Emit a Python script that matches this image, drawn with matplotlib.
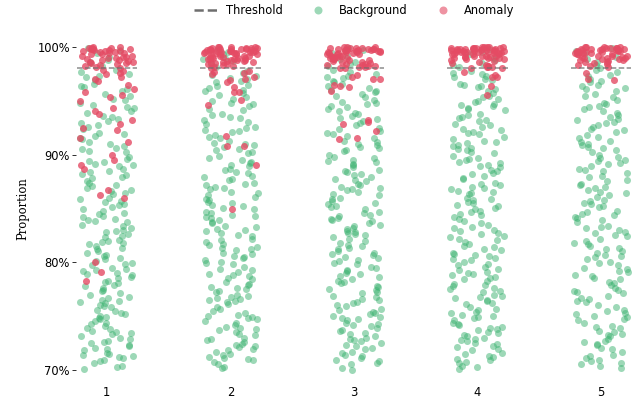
import matplotlib
matplotlib.use("Agg")
import matplotlib.pyplot as plt
from matplotlib.lines import Line2D
from matplotlib.ticker import PercentFormatter
import numpy as np
import pandas as pd
import seaborn as sns

batches = ["1", "2", "3", "4", "5"]
threshold = 0.98

# proportions in percent, one list per batch
background_1 = [
    70.1, 70.4, 70.9, 71.2, 71.3, 71.5, 71.6, 71.8, 70.6, 71.9, 70.3, 71.1, 70.8, 71.4,
    72.0, 72.2, 72.5, 72.6, 72.9, 73.1, 73.3, 73.4, 73.6, 73.8, 72.3, 73.9, 72.7, 73.0, 73.5,
    74.1, 74.3, 74.4, 74.7, 74.9, 75.0, 75.2, 75.3, 75.6, 75.8, 74.5, 75.9, 74.8, 75.5,
    76.0, 76.2, 76.4, 76.5, 76.8, 77.0, 77.1, 77.4, 77.6, 77.9, 76.7, 77.3, 76.3, 77.8,
    78.1, 78.3, 78.5, 78.8, 79.0, 79.2, 79.3, 79.5, 79.7, 79.9, 78.6, 79.4, 78.2, 79.8, 78.9,
    80.1, 80.3, 80.4, 80.7, 80.9, 81.0, 81.2, 81.5, 81.7, 81.9, 80.6, 81.3, 81.8,
    82.0, 82.3, 82.4, 82.6, 82.9, 83.0, 83.2, 83.5, 83.7, 83.8, 82.8, 83.4, 82.1, 83.9,
    84.0, 84.2, 84.5, 84.6, 84.8, 85.1, 85.3, 85.4, 85.7, 85.9, 84.3, 85.6, 84.9,
    86.0, 86.3, 86.4, 86.7, 86.9, 87.1, 87.2, 87.5, 87.8, 86.6, 87.4, 87.9,
    88.1, 88.2, 88.5, 88.7, 89.0, 89.1, 89.4, 89.6, 89.8, 88.4, 89.3, 88.9,
    90.2, 90.3, 90.6, 90.8, 91.0, 91.2, 91.4, 91.7, 91.9, 90.5, 91.5,
    92.0, 92.4, 92.6, 92.9, 93.1, 93.3, 93.6, 93.9, 92.7, 93.5,
    94.0, 94.3, 94.6, 94.8, 95.1, 95.4, 95.6, 95.9, 94.4, 95.2,
    96.1, 96.4, 96.6, 96.9, 97.2, 97.5, 97.7, 97.9, 96.3, 97.3,
    98.2, 98.5, 98.8, 99.1, 99.4, 99.7, 99.9, 98.6,
]
background_2 = [
    70.2, 70.3, 70.7, 70.9, 71.0, 71.2, 71.4, 71.7, 71.8, 70.5, 71.5, 71.9, 71.1,
    72.1, 72.3, 72.6, 72.8, 73.0, 73.2, 73.5, 73.7, 73.9, 72.4, 73.3, 72.9, 73.8, 72.2,
    74.0, 74.2, 74.5, 74.7, 74.8, 75.1, 75.3, 75.5, 75.7, 75.8, 74.4, 75.0, 74.9,
    76.1, 76.3, 76.5, 76.6, 76.9, 77.0, 77.2, 77.5, 77.7, 77.9, 76.4, 77.3, 76.8, 77.6, 76.7,
    78.0, 78.2, 78.4, 78.7, 78.9, 79.1, 79.4, 79.6, 79.8, 78.5, 79.3, 79.9, 78.8,
    80.0, 80.2, 80.5, 80.6, 80.8, 81.1, 81.3, 81.4, 81.6, 81.9, 80.4, 81.7, 80.9, 81.2,
    82.1, 82.2, 82.5, 82.7, 82.9, 83.1, 83.3, 83.4, 83.6, 83.9, 82.4, 83.7, 83.0,
    84.1, 84.3, 84.4, 84.7, 84.9, 85.0, 85.2, 85.5, 85.6, 85.8, 84.6, 85.3, 84.2, 85.9,
    86.1, 86.2, 86.5, 86.8, 87.0, 87.3, 87.4, 87.6, 87.9, 86.4, 87.2, 86.9, 87.7,
    88.0, 88.3, 88.4, 88.6, 88.9, 89.2, 89.3, 89.5, 89.7, 89.9, 88.7, 89.0,
    90.1, 90.4, 90.5, 90.7, 91.0, 91.1, 91.3, 91.6, 91.8, 90.9, 91.5, 90.2,
    92.1, 92.3, 92.5, 92.8, 93.0, 93.2, 93.4, 93.7, 93.8, 92.6, 93.5, 92.2,
    94.1, 94.2, 94.5, 94.7, 95.0, 95.2, 95.5, 95.7, 95.9, 94.8, 95.3,
    96.0, 96.2, 96.5, 96.7, 97.0, 97.1, 97.4, 97.6, 97.8, 96.8, 97.3, 96.4,
    98.1, 98.4, 98.7, 99.0, 99.3, 99.5, 99.8, 98.9,
]
background_3 = [
    70.0, 70.2, 70.5, 70.6, 70.9, 71.1, 71.3, 71.6, 71.7, 70.8, 71.4, 71.9,
    72.0, 72.3, 72.5, 72.7, 72.8, 73.0, 73.3, 73.4, 73.7, 73.9, 72.2, 73.6, 72.9, 73.1,
    74.1, 74.2, 74.4, 74.6, 74.9, 75.0, 75.3, 75.4, 75.6, 75.9, 74.7, 75.2, 74.3, 75.7, 74.8,
    76.0, 76.2, 76.3, 76.6, 76.9, 77.1, 77.2, 77.4, 77.7, 77.8, 76.5, 77.5, 76.8,
    78.1, 78.2, 78.4, 78.6, 78.9, 79.0, 79.2, 79.5, 79.6, 79.9, 78.7, 79.3, 78.3, 79.8,
    80.1, 80.2, 80.4, 80.7, 80.8, 81.0, 81.3, 81.5, 81.6, 81.8, 80.5, 81.2, 80.9,
    82.0, 82.2, 82.5, 82.6, 82.8, 83.1, 83.2, 83.5, 83.6, 83.8, 82.3, 83.4, 82.9, 83.9, 82.7,
    84.0, 84.3, 84.4, 84.6, 84.9, 85.1, 85.2, 85.4, 85.7, 85.9, 84.7, 85.5, 84.1,
    86.0, 86.2, 86.5, 86.7, 86.8, 87.0, 87.3, 87.5, 87.6, 87.9, 86.3, 87.2, 86.9, 87.7,
    88.1, 88.2, 88.5, 88.6, 88.8, 89.1, 89.3, 89.4, 89.7, 89.8, 88.4, 89.0, 89.5,
    90.0, 90.3, 90.4, 90.6, 90.9, 91.0, 91.2, 91.5, 91.7, 91.9, 90.7, 91.3,
    92.0, 92.2, 92.5, 92.7, 92.9, 93.1, 93.3, 93.6, 93.8, 92.4, 93.4, 93.9,
    94.0, 94.2, 94.4, 94.7, 94.9, 95.1, 95.3, 95.6, 95.8, 94.5, 95.4, 95.9, 94.8,
    96.0, 96.2, 96.4, 96.7, 96.8, 97.1, 97.3, 97.5, 97.7, 97.9, 96.6, 97.2,
    98.2, 98.4, 98.6, 98.9, 99.2, 99.4, 99.7, 99.9,
]
background_4 = [
    70.1, 70.3, 70.4, 70.7, 71.0, 71.2, 71.5, 71.6, 71.8, 70.6, 71.3, 70.9, 71.9,
    72.1, 72.2, 72.4, 72.7, 72.9, 73.0, 73.2, 73.4, 73.5, 73.8, 72.5, 73.7, 72.8, 73.1, 73.9,
    74.0, 74.3, 74.4, 74.6, 74.8, 75.0, 75.1, 75.4, 75.6, 75.7, 74.2, 75.3, 74.9, 75.8,
    76.1, 76.2, 76.4, 76.7, 76.8, 77.0, 77.3, 77.5, 77.6, 77.8, 76.5, 77.2, 76.9, 77.9,
    78.0, 78.3, 78.4, 78.6, 78.8, 79.0, 79.1, 79.3, 79.6, 79.8, 78.5, 79.4, 78.9, 79.7,
    80.0, 80.2, 80.3, 80.6, 80.8, 80.9, 81.1, 81.4, 81.5, 81.7, 80.4, 81.2, 81.9, 80.7,
    82.1, 82.3, 82.4, 82.6, 82.9, 83.0, 83.2, 83.3, 83.6, 83.8, 82.7, 83.5, 82.2,
    84.0, 84.2, 84.4, 84.5, 84.8, 85.0, 85.2, 85.3, 85.6, 85.8, 84.7, 85.5, 84.9, 85.9,
    86.0, 86.3, 86.4, 86.6, 86.9, 87.0, 87.2, 87.4, 87.7, 87.8, 86.5, 87.3, 86.8,
    88.0, 88.2, 88.3, 88.6, 88.8, 89.0, 89.2, 89.5, 89.6, 89.9, 88.5, 89.3, 88.9, 89.7,
    90.1, 90.2, 90.5, 90.6, 90.8, 91.1, 91.3, 91.4, 91.6, 91.9, 90.4, 91.2, 90.9,
    92.0, 92.3, 92.4, 92.7, 92.8, 93.1, 93.2, 93.5, 93.7, 93.8, 92.6, 93.4, 92.1,
    94.1, 94.3, 94.5, 94.6, 94.9, 95.0, 95.3, 95.4, 95.7, 95.9, 94.7, 95.2, 94.2,
    96.1, 96.3, 96.5, 96.6, 96.9, 97.0, 97.2, 97.5, 97.6, 97.8, 96.4, 97.3,
    98.1, 98.3, 98.5, 98.8, 99.0, 99.3, 99.5, 99.8,
]
background_5 = [
    70.2, 70.4, 70.6, 70.8, 71.1, 71.3, 71.4, 71.7, 70.9, 71.9, 70.5,
    72.0, 72.3, 72.4, 72.6, 72.9, 73.1, 73.2, 73.5, 73.6, 73.9, 72.7, 73.3,
    74.0, 74.1, 74.4, 74.6, 74.7, 75.0, 75.2, 75.5, 75.6, 75.8, 74.9, 75.3,
    76.0, 76.3, 76.4, 76.6, 76.9, 77.1, 77.3, 77.4, 77.6, 77.9, 76.7, 77.2,
    78.1, 78.2, 78.5, 78.7, 78.8, 79.1, 79.2, 79.4, 79.7, 79.9, 78.4, 79.5,
    80.0, 80.3, 80.5, 80.6, 80.9, 81.0, 81.2, 81.5, 81.7, 81.8, 80.7, 81.3,
    82.0, 82.2, 82.4, 82.7, 82.8, 83.0, 83.3, 83.4, 83.7, 83.9, 82.5, 83.2,
    84.1, 84.2, 84.5, 84.7, 84.8, 85.1, 85.2, 85.4, 85.7, 85.8, 84.4, 85.5,
    86.1, 86.2, 86.4, 86.7, 86.9, 87.0, 87.3, 87.5, 87.6, 87.9, 86.5, 87.2,
    88.0, 88.3, 88.5, 88.6, 88.9, 89.1, 89.2, 89.4, 89.7, 89.8, 88.7, 89.5,
    90.0, 90.2, 90.4, 90.7, 90.9, 91.0, 91.3, 91.5, 91.6, 91.8, 90.6, 91.2,
    92.1, 92.3, 92.4, 92.6, 92.9, 93.0, 93.2, 93.5, 93.7, 93.9, 92.7, 93.3,
    94.0, 94.2, 94.4, 94.7, 94.8, 95.1, 95.3, 95.4, 95.6, 95.9, 94.5,
    96.1, 96.2, 96.5, 96.7, 96.8, 97.0, 97.3, 97.4, 97.7, 97.9, 96.4,
    98.0, 98.3, 98.6, 98.9, 99.1, 99.4, 99.6, 99.9,
]

anomaly_1 = [
    100.0, 100.0, 99.9, 99.9, 99.8, 99.8, 99.7, 99.7, 99.6, 99.6, 99.5, 99.5, 99.4, 99.3,
    99.3, 99.2, 99.1, 99.0, 99.0, 98.9, 98.8, 98.7, 98.6, 98.6, 98.5, 98.4, 98.3, 98.2,
    98.1, 98.0, 97.9, 97.8, 99.8, 99.4, 99.1, 98.8, 98.5, 99.9, 99.6, 99.2,
    97.6, 97.5, 97.2, 97.0, 96.8, 96.5, 96.1, 95.8, 95.5, 95.3, 95.0, 94.3, 94.0, 93.8,
    93.2, 92.8, 92.5, 92.3, 91.5, 91.2, 90.0, 89.5, 89.0, 88.7, 86.7, 86.2, 86.0,
    80.0, 79.1, 78.3,
]
anomaly_2 = [
    100.0, 100.0, 100.0, 99.9, 99.9, 99.9, 99.8, 99.8, 99.8, 99.7, 99.7, 99.7, 99.6, 99.6,
    99.6, 99.5, 99.5, 99.5, 99.4, 99.4, 99.4, 99.3, 99.3, 99.3, 99.2, 99.2, 99.1, 99.1,
    99.0, 99.0, 98.9, 98.9, 98.8, 98.8, 98.7, 98.7, 98.6, 98.5, 98.4, 98.3, 98.2, 98.1,
    98.0, 99.9, 99.8, 99.6, 99.5, 99.3, 99.1, 98.9, 99.7, 99.4, 99.0, 98.6, 98.4, 100.0,
    99.8, 99.2, 98.8, 98.5,
    97.8, 97.7, 97.6, 97.5, 97.2, 97.0, 96.9, 96.7, 96.3, 95.8, 95.8, 95.1, 94.6,
    91.7, 90.8, 90.8, 89.0, 84.9,
]
anomaly_3 = [
    100.0, 100.0, 99.9, 99.9, 99.9, 99.8, 99.8, 99.8, 99.7, 99.7, 99.7, 99.6, 99.6, 99.6,
    99.5, 99.5, 99.5, 99.4, 99.4, 99.3, 99.3, 99.3, 99.2, 99.2, 99.1, 99.1, 99.0, 99.0,
    98.9, 98.8, 98.8, 98.7, 98.6, 98.5, 98.4, 98.3, 98.3, 98.2, 98.2, 98.1, 98.1, 98.0,
    98.0, 99.9, 99.7, 99.5, 99.2, 98.9, 98.6, 99.8, 99.4, 99.0, 100.0, 99.6, 98.4,
    97.4, 97.2, 97.0, 97.0, 96.5, 96.4, 96.3, 95.9, 93.2, 93.0, 92.8, 92.2, 91.5, 91.4,
]
anomaly_4 = [
    100.0, 100.0, 100.0, 100.0, 99.9, 99.9, 99.9, 99.9, 99.8, 99.8, 99.8, 99.8, 99.7, 99.7,
    99.7, 99.7, 99.6, 99.6, 99.6, 99.5, 99.5, 99.5, 99.5, 99.4, 99.4, 99.4, 99.3, 99.3,
    99.3, 99.2, 99.2, 99.2, 99.1, 99.1, 99.0, 99.0, 98.9, 98.9, 98.8, 98.7, 98.6, 98.5,
    98.3, 98.2, 98.2, 98.1, 98.1, 98.1, 98.0, 98.0, 99.9, 99.8, 99.6, 99.4, 99.2, 99.0,
    99.7, 99.5, 99.3, 100.0, 99.8, 99.1,
    97.7, 97.4, 97.2, 97.2, 96.4, 95.5,
]
anomaly_5 = [
    100.0, 100.0, 100.0, 99.9, 99.9, 99.9, 99.8, 99.8, 99.8, 99.7, 99.7, 99.7, 99.6, 99.6,
    99.5, 99.5, 99.5, 99.4, 99.4, 99.3, 99.3, 99.2, 99.2, 99.1, 99.1, 99.0, 99.0, 98.9,
    98.8, 98.8, 98.7, 98.6, 98.5, 98.4, 98.3, 98.2, 98.1, 99.9, 99.8, 99.6, 99.4, 99.2,
    99.0, 99.7, 99.5, 99.3, 100.0, 98.9, 98.6,
    97.6, 97.0, 96.9,
]

GREEN = "#3cb371"
RED = "#e44b64"
GREY = "#6e6e6e"
FS = 11.5


def to_frame(groups):
    rows = []
    for b, vals in zip(batches, groups):
        rows += [(b, v / 100) for v in vals]
    return pd.DataFrame(rows, columns=["batch", "proportion"])


bg = to_frame([background_1, background_2, background_3, background_4, background_5])
an = to_frame([anomaly_1, anomaly_2, anomaly_3, anomaly_4, anomaly_5])

np.random.seed(7)

fig = plt.figure(figsize=(644 / 72, 407 / 72), dpi=72)
ax = fig.add_axes([0.118, 0.078, 0.863, 0.82])

sns.stripplot(data=bg, x="batch", y="proportion", order=batches, color=GREEN,
              alpha=0.5, size=7, jitter=0.22, linewidth=0, ax=ax, zorder=2)
sns.stripplot(data=an, x="batch", y="proportion", order=batches, color=RED,
              alpha=0.8, size=7, jitter=0.22, linewidth=0, ax=ax, zorder=3)

for i in range(len(batches)):
    ax.hlines(threshold, i - 0.245, i + 0.245, colors=GREY, linestyles="--",
              linewidth=1.5, alpha=0.8, zorder=4)

for c in ax.collections:
    c.set_clip_on(False)

ax.set_xlim(-0.25, 4.25)
ax.set_ylim(0.695, 1.005)
ax.set_yticks([0.7, 0.8, 0.9, 1.0])
ax.yaxis.set_major_formatter(PercentFormatter(1.0, decimals=0))
ax.tick_params(axis="y", length=4, width=1, color="#333333", labelsize=FS, pad=2)
ax.tick_params(axis="x", length=0, labelsize=FS, pad=11)
ax.set_xlabel("")
ax.set_ylabel("Proportion", family="DejaVu Serif", fontsize=FS, labelpad=8)
for s in ax.spines.values():
    s.set_visible(False)

handles = [
    Line2D([], [], color=GREY, linestyle="--", linewidth=2.5),
    Line2D([], [], color=GREEN, alpha=0.5, marker="o", linestyle="", markersize=8,
           markeredgewidth=0),
    Line2D([], [], color=RED, alpha=0.6, marker="o", linestyle="", markersize=8,
           markeredgewidth=0),
]
fig.legend(handles, ["Threshold", "Background", "Anomaly"], loc="upper center",
           bbox_to_anchor=(354 / 644, 1.015), ncol=3, frameon=False, fontsize=FS,
           columnspacing=2.1, handlelength=2.0, handletextpad=0.8)

fig.savefig("out.png", dpi=72)
